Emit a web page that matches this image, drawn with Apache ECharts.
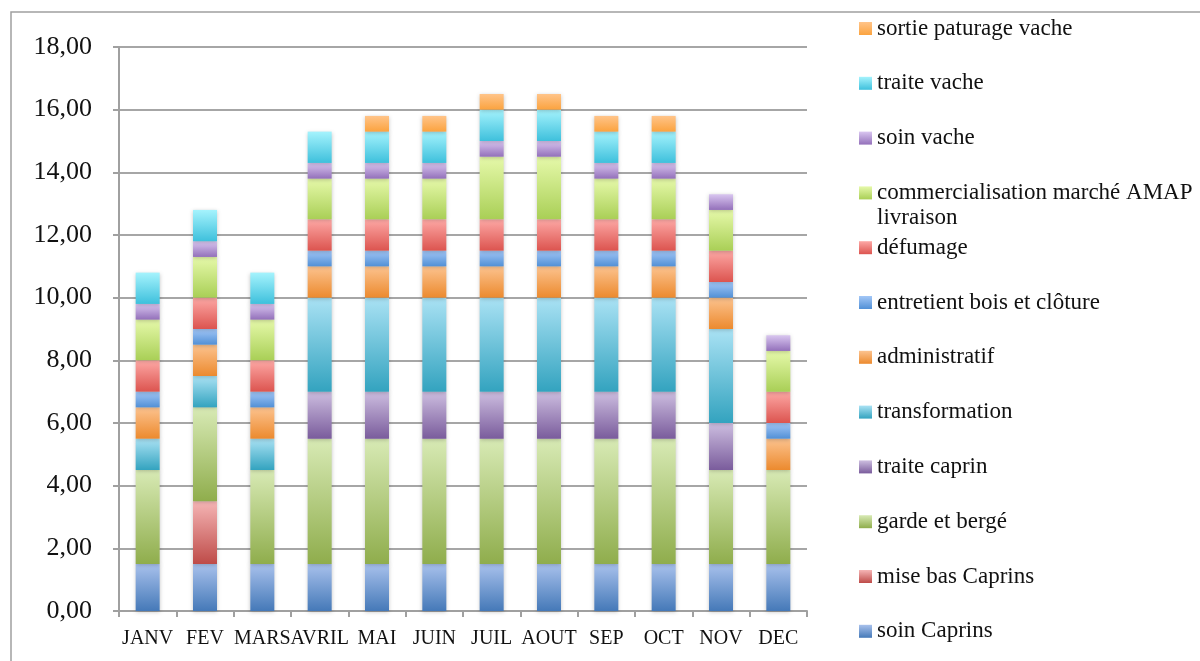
<!DOCTYPE html>
<html>
<head>
<meta charset="utf-8">
<script src="https://cdn.jsdelivr.net/npm/echarts@6/dist/echarts.min.js"></script>
<style>
html,body{margin:0;padding:0;background:#fff;}
#chart{width:1200px;height:661px;}
</style>
</head>
<body>
<div id="chart"></div>
<script>
// ---- data ----
const months = ['JANV','FEV','MARS','AVRIL','MAI','JUIN','JUIL','AOUT','SEP','OCT','NOV','DEC'];
const soinCaprins       = [1.5,1.5,1.5,1.5,1.5,1.5,1.5,1.5,1.5,1.5,1.5,1.5];
const miseBasCaprins    = [0,2,0,0,0,0,0,0,0,0,0,0];
const gardeEtBerge      = [3,3,3,4,4,4,4,4,4,4,3,3];
const traiteCaprin      = [0,0,0,1.5,1.5,1.5,1.5,1.5,1.5,1.5,1.5,0];
const transformation    = [1,1,1,3,3,3,3,3,3,3,3,0];
const administratif     = [1,1,1,1,1,1,1,1,1,1,1,1];
const entretientBois    = [0.5,0.5,0.5,0.5,0.5,0.5,0.5,0.5,0.5,0.5,0.5,0.5];
const defumage          = [1,1,1,1,1,1,1,1,1,1,1,1];
const commercialisation = [1.3,1.3,1.3,1.3,1.3,1.3,2,2,1.3,1.3,1.3,1.3];
const soinVache         = [0.5,0.5,0.5,0.5,0.5,0.5,0.5,0.5,0.5,0.5,0.5,0.5];
const traiteVache       = [1,1,1,1,1,1,1,1,1,1,0,0];
const sortiePaturage    = [0,0,0,0,0.5,0.5,0.5,0.5,0.5,0.5,0,0];
const yTicks = { min: 0, max: 18, interval: 2 };

const seriesNames = ['soin Caprins','mise bas Caprins','garde et bergé','traite caprin','transformation','administratif','entretient bois et clôture','défumage','commercialisation marché AMAP livraison','soin vache','traite vache','sortie paturage vache'];
const seriesValues = [soinCaprins,miseBasCaprins,gardeEtBerge,traiteCaprin,transformation,administratif,entretientBois,defumage,commercialisation,soinVache,traiteVache,sortiePaturage];

// ---- style ----
const palette = [
  ['#a8c1ec','#4579b8'],
  ['#f5b5b5','#be4b48'],
  ['#d8eab5','#8fad4c'],
  ['#cdbee0','#7a5c9c'],
  ['#aae2f4','#33a3bf'],
  ['#fcc38f','#ec8a2e'],
  ['#a3c7f7','#5190d6'],
  ['#fda8a5','#dc544f'],
  ['#e6f9aa','#a9cf56'],
  ['#d9c6f0','#9370ba'],
  ['#a5f3fd','#3ec0dc'],
  ['#ffc489','#fba33f']
];
const FONT = '"Liberation Serif", "DejaVu Serif", serif';
const COMM = 'commercialisation marché AMAP livraison';

const series = seriesNames.map((name, i) => ({
  name: name,
  type: 'bar',
  stack: 'total',
  barWidth: 24,
  data: seriesValues[i].map(v => v === 0 ? '-' : v),
  itemStyle: {
    color: new echarts.graphic.LinearGradient(0,0,0,1,[
      {offset:0,color:palette[i][0]},{offset:1,color:palette[i][1]}
    ]),
    shadowBlur: 4,
    shadowColor: 'rgba(0,0,0,0.22)',
    shadowOffsetY: 1
  },
  emphasis: { disabled: true }
}));

const legends = seriesNames.slice().reverse().map((name, k) => ({
  data: [name],
  orient: 'vertical',
  left: 859,
  top: 29 + k * 54.8 - 12,
  padding: 0,
  itemWidth: 13,
  itemHeight: 13,
  itemGap: 0,
  icon: 'rect',
  selectedMode: false,
  formatter: n => n === COMM ? 'commercialisation marché AMAP' : n,
  textStyle: { fontFamily: FONT, fontSize: 23, color: '#111' }
}));

const chart = echarts.init(document.getElementById('chart'), null, {renderer:'canvas'});
chart.setOption({
  animation: false,
  backgroundColor: '#fff',
  grid: { left: 119, right: 393, top: 47, bottom: 50, containLabel: false },
  xAxis: {
    type: 'category',
    data: months,
    axisLine: { lineStyle: { color: '#a0a0a0', width: 2 } },
    axisTick: { show: true, length: 6, lineStyle: { color: '#a0a0a0', width: 2 } },
    axisLabel: { fontFamily: FONT, fontSize: 20, color: '#111', margin: 18, interval: 0 }
  },
  yAxis: {
    type: 'value',
    min: yTicks.min, max: yTicks.max, interval: yTicks.interval,
    axisLine: { show: true, lineStyle: { color: '#a0a0a0', width: 2 } },
    axisTick: { show: true, length: 6, lineStyle: { color: '#a0a0a0', width: 2 } },
    splitLine: { lineStyle: { color: '#a6a6a6', width: 2 } },
    axisLabel: { fontFamily: FONT, fontSize: 26, color: '#111', margin: 27,
      formatter: v => v.toFixed(2).replace('.', ',') }
  },
  legend: legends,
  graphic: [
    { type: 'rect', shape: { x: 11, y: 12, width: 1200, height: 700 },
      style: { fill: 'none', stroke: '#a0a0a0', lineWidth: 1.5 }, silent: true, z: -1 },
    { type: 'text', left: 877, top: 206,
      style: { text: 'livraison', font: '23px ' + FONT, fill: '#111' } }
  ],
  series: series
});
</script>
</body>
</html>
